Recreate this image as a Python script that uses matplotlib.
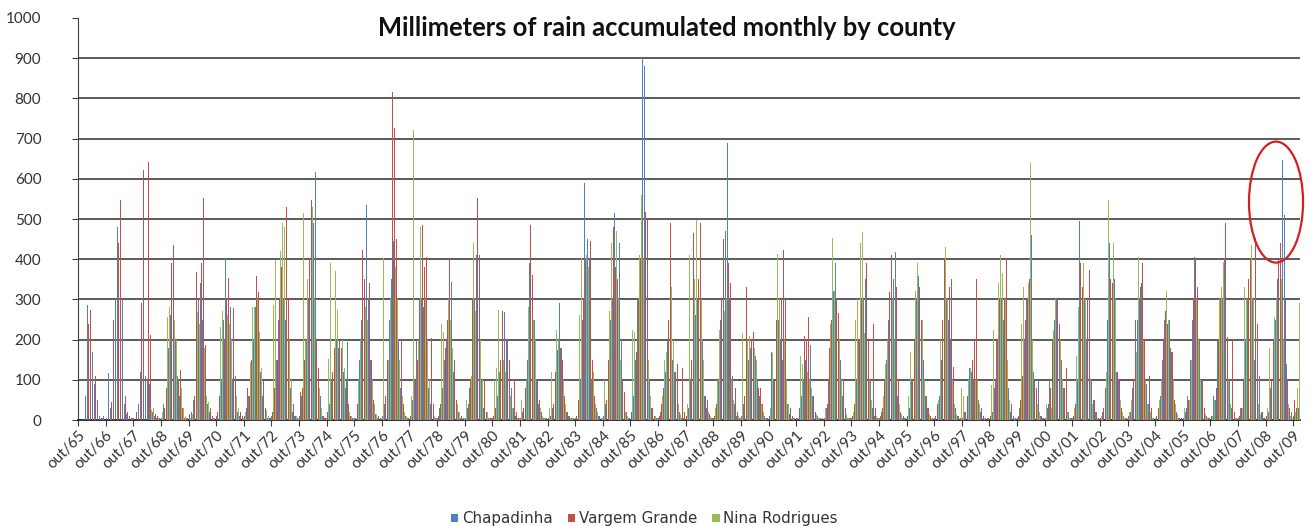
#!/usr/bin/env python
# -*- coding: utf-8 -*-

"""
Monthly rain (mm) by county, Oct/65 - Dec/09, clustered bars.
"""

import numpy as np
import matplotlib
matplotlib.use('Agg')
import matplotlib.pyplot as plt
import matplotlib.transforms as mtransforms
from matplotlib.patches import Ellipse

OUTFILE = 'out.png'

# one row per hydrological year, Oct..Sep
chapadinha = [
    0, 0, 5, 60, 286, 205, 170, 90, 40, 10, 5, 10,
    10, 116, 30, 180, 300, 481, 420, 300, 40, 15, 5, 5,
    5, 130, 40, 120, 260, 110, 100, 90, 20, 10, 5, 5,
    5, 40, 100, 180, 260, 280, 200, 110, 60, 20, 5, 5,
    10, 20, 50, 200, 300, 340, 250, 120, 40, 20, 5, 5,
    10, 40, 100, 250, 403, 300, 280, 100, 50, 20, 10, 5,
    10, 30, 60, 140, 200, 280, 250, 120, 60, 20, 5, 5,
    10, 60, 150, 250, 273, 300, 250, 150, 80, 20, 10, 5,
    10, 60, 290, 200, 300, 450, 489, 618, 130, 60, 10, 5,
    10, 40, 100, 150, 200, 180, 150, 120, 80, 195, 20, 5,
    5, 30, 150, 250, 300, 535, 300, 150, 40, 15, 5, 5,
    10, 40, 100, 250, 350, 445, 400, 200, 80, 30, 10, 5,
    10, 50, 100, 200, 250, 300, 280, 150, 80, 40, 10, 5,
    5, 30, 80, 150, 200, 250, 344, 120, 40, 20, 5, 5,
    5, 30, 80, 200, 300, 410, 250, 100, 30, 10, 5, 5,
    5, 20, 60, 120, 200, 269, 200, 150, 80, 30, 10, 5,
    5, 20, 60, 150, 390, 300, 250, 100, 40, 15, 5, 5,
    5, 10, 30, 100, 174, 290, 180, 60, 20, 10, 5, 5,
    5, 30, 100, 250, 590, 450, 400, 100, 60, 30, 10, 5,
    10, 40, 120, 250, 300, 514, 380, 440, 200, 80, 20, 5,
    20, 60, 150, 300, 400, 900, 881, 500, 100, 30, 10, 5,
    5, 20, 60, 120, 200, 250, 150, 120, 60, 20, 5, 5,
    5, 30, 100, 250, 260, 300, 406, 200, 60, 30, 10, 5,
    5, 30, 100, 250, 350, 470, 689, 300, 110, 40, 10, 5,
    10, 40, 100, 150, 180, 200, 160, 100, 60, 30, 10, 5,
    10, 170, 100, 200, 250, 200, 150, 100, 40, 15, 5, 5,
    5, 20, 60, 100, 150, 150, 187, 60, 20, 10, 5, 5,
    5, 30, 100, 200, 320, 390, 250, 150, 60, 20, 5, 5,
    5, 30, 100, 200, 250, 300, 350, 200, 100, 30, 10, 5,
    5, 20, 60, 150, 250, 300, 350, 418, 60, 20, 5, 5,
    5, 30, 100, 200, 300, 357, 250, 150, 60, 30, 10, 5,
    5, 20, 60, 150, 250, 300, 250, 200, 130, 30, 10, 5,
    5, 20, 60, 130, 120, 100, 110, 50, 20, 10, 5, 5,
    5, 20, 80, 200, 250, 300, 250, 200, 80, 20, 5, 5,
    5, 30, 100, 200, 300, 350, 460, 120, 80, 100, 10, 5,
    5, 30, 100, 200, 250, 300, 539, 150, 80, 129, 20, 5,
    5, 30, 100, 494, 250, 300, 200, 150, 100, 50, 20, 5,
    5, 20, 80, 250, 440, 514, 350, 120, 100, 30, 10, 5,
    5, 20, 80, 200, 250, 300, 340, 180, 90, 40, 10, 5,
    5, 20, 60, 150, 250, 319, 250, 170, 50, 20, 5, 5,
    5, 20, 60, 150, 250, 406, 340, 200, 100, 30, 10, 5,
    5, 60, 50, 200, 250, 300, 400, 535, 100, 30, 10, 5,
    5, 30, 80, 200, 300, 350, 300, 150, 100, 110, 20, 5,
    5, 20, 80, 150, 250, 350, 518, 647, 510, 140, 140, 20,
    10, 20, 30,
]

vargem_grande = [
    0, 0, 0, 133, 240, 273, 250, 110, 50, 15, 5, 0,
    5, 40, 45, 248, 323, 440, 547, 365, 60, 20, 10, 5,
    0, 20, 15, 291, 622, 403, 643, 211, 30, 15, 10, 5,
    5, 30, 80, 150, 390, 435, 250, 100, 124, 30, 10, 5,
    15, 20, 60, 369, 340, 390, 552, 187, 50, 30, 10, 5,
    20, 60, 120, 200, 300, 353, 577, 278, 110, 40, 20, 10,
    30, 80, 60, 150, 250, 357, 319, 160, 100, 30, 10, 5,
    20, 80, 150, 300, 380, 420, 531, 300, 110, 40, 10, 5,
    70, 80, 150, 428, 400, 547, 350, 200, 129, 50, 10, 5,
    20, 60, 120, 180, 230, 199, 180, 150, 100, 40, 10, 5,
    5, 40, 100, 424, 350, 406, 340, 150, 50, 20, 10, 5,
    20, 60, 150, 577, 817, 726, 450, 412, 200, 40, 15, 5,
    10, 40, 100, 150, 300, 485, 381, 406, 100, 204, 40, 5,
    10, 40, 100, 180, 250, 403, 250, 150, 50, 25, 10, 5,
    10, 40, 100, 300, 742, 552, 410, 250, 100, 20, 10, 5,
    10, 30, 80, 150, 270, 250, 200, 150, 200, 100, 20, 5,
    10, 30, 80, 200, 485, 360, 375, 100, 50, 20, 10, 5,
    5, 20, 40, 120, 150, 180, 150, 60, 20, 10, 5, 5,
    10, 50, 150, 300, 400, 465, 445, 150, 60, 30, 10, 5,
    10, 50, 150, 300, 481, 380, 350, 250, 100, 70, 20, 5,
    20, 80, 170, 300, 400, 450, 518, 500, 100, 30, 10, 5,
    10, 40, 80, 150, 250, 489, 150, 120, 140, 141, 130, 20,
    10, 50, 150, 465, 350, 350, 489, 250, 60, 50, 15, 5,
    10, 40, 120, 300, 450, 400, 390, 340, 365, 80, 20, 5,
    20, 60, 332, 200, 200, 220, 180, 80, 80, 40, 10, 5,
    10, 40, 100, 250, 418, 300, 423, 300, 100, 30, 10, 5,
    5, 30, 80, 210, 199, 257, 150, 60, 20, 10, 5, 5,
    10, 40, 180, 250, 300, 300, 265, 200, 100, 30, 10, 5,
    10, 40, 100, 200, 300, 350, 390, 200, 150, 238, 30, 5,
    10, 30, 100, 200, 319, 410, 493, 330, 100, 30, 10, 5,
    10, 40, 100, 200, 280, 332, 250, 200, 60, 30, 10, 5,
    10, 40, 200, 250, 400, 406, 330, 350, 133, 40, 10, 5,
    10, 20, 60, 423, 150, 200, 350, 100, 30, 10, 5, 5,
    10, 30, 100, 200, 300, 340, 300, 400, 443, 40, 10, 5,
    10, 50, 110, 250, 300, 350, 431, 100, 80, 40, 10, 5,
    10, 40, 80, 200, 240, 300, 240, 120, 80, 130, 20, 5,
    10, 40, 150, 390, 330, 514, 300, 373, 100, 50, 20, 5,
    10, 30, 80, 300, 350, 340, 330, 120, 100, 30, 10, 5,
    10, 30, 100, 250, 300, 332, 390, 200, 70, 110, 30, 5,
    10, 30, 80, 200, 270, 240, 180, 170, 50, 20, 5, 5,
    10, 30, 50, 257, 300, 400, 330, 278, 100, 30, 10, 5,
    10, 30, 80, 200, 300, 350, 489, 207, 100, 200, 20, 5,
    10, 30, 100, 250, 350, 400, 622, 453, 240, 100, 20, 5,
    10, 30, 100, 200, 350, 400, 440, 450, 300, 100, 30, 10,
    50, 30, 80,
]

nina_rodrigues = [
    0, 0, 0, 0, 0, 0, 0, 0, 0, 0, 0, 0,
    0, 0, 0, 0, 0, 0, 0, 0, 0, 0, 0, 0,
    0, 0, 0, 0, 0, 0, 0, 25, 30, 10, 5, 0,
    20, 100, 257, 280, 273, 250, 200, 130, 80, 30, 10, 5,
    5, 15, 100, 269, 240, 200, 180, 60, 45, 20, 5, 0,
    120, 232, 270, 291, 260, 240, 200, 100, 60, 30, 10, 5,
    20, 150, 145, 282, 280, 300, 220, 130, 70, 25, 10, 5,
    286, 398, 350, 420, 489, 480, 400, 200, 100, 30, 10, 5,
    40, 514, 200, 350, 585, 531, 300, 150, 80, 30, 10, 5,
    153, 390, 380, 370, 273, 270, 200, 130, 60, 20, 10, 5,
    10, 100, 200, 290, 280, 250, 200, 100, 40, 15, 5, 0,
    403, 50, 150, 300, 400, 380, 300, 150, 60, 20, 10, 5,
    60, 721, 502, 200, 480, 400, 300, 200, 100, 30, 10, 5,
    60, 238, 220, 323, 300, 250, 180, 100, 40, 20, 5, 5,
    50, 80, 110, 440, 270, 300, 200, 100, 40, 20, 5, 5,
    100, 130, 273, 240, 150, 120, 100, 60, 30, 15, 5, 5,
    50, 182, 100, 280, 290, 250, 200, 80, 30, 10, 5, 0,
    30, 120, 130, 225, 200, 150, 100, 40, 15, 5, 5, 0,
    311, 260, 403, 323, 410, 380, 300, 120, 40, 20, 10, 5,
    100, 410, 270, 440, 400, 470, 300, 150, 60, 20, 10, 5,
    224, 220, 440, 410, 560, 400, 300, 150, 60, 20, 10, 5,
    30, 60, 150, 170, 150, 332, 200, 100, 40, 15, 5, 0,
    40, 410, 200, 350, 498, 400, 300, 150, 50, 20, 10, 5,
    30, 100, 225, 602, 270, 300, 200, 100, 50, 20, 10, 5,
    216, 200, 200, 210, 232, 180, 150, 80, 40, 20, 5, 5,
    30, 166, 307, 414, 300, 300, 200, 100, 40, 15, 5, 0,
    20, 160, 140, 120, 120, 100, 80, 40, 15, 5, 0, 0,
    30, 50, 240, 453, 320, 250, 200, 100, 40, 15, 5, 5,
    20, 250, 300, 440, 468, 216, 200, 100, 50, 20, 10, 5,
    20, 60, 140, 200, 350, 300, 200, 100, 40, 15, 5, 0,
    60, 170, 232, 320, 390, 380, 250, 100, 40, 15, 5, 0,
    20, 50, 200, 250, 431, 300, 200, 100, 40, 15, 5, 80,
    60, 435, 100, 130, 120, 100, 100, 40, 15, 5, 0, 0,
    88, 225, 174, 340, 410, 365, 300, 150, 50, 20, 5, 0,
    50, 240, 332, 340, 340, 639, 200, 100, 40, 20, 5, 0,
    40, 133, 30, 224, 300, 435, 200, 100, 40, 20, 5, 0,
    30, 159, 282, 330, 390, 300, 50, 100, 40, 20, 5, 0,
    10, 80, 120, 547, 350, 440, 300, 120, 50, 20, 5, 0,
    20, 50, 390, 170, 406, 300, 200, 100, 40, 20, 5, 0,
    20, 50, 100, 269, 320, 250, 200, 100, 40, 15, 5, 0,
    30, 210, 50, 150, 328, 300, 200, 100, 40, 15, 5, 0,
    10, 50, 332, 300, 330, 394, 200, 100, 40, 15, 5, 0,
    20, 30, 332, 300, 350, 435, 300, 100, 40, 15, 5, 0,
    30, 180, 221, 257, 300, 400, 350, 200, 83, 40, 10, 5,
    20, 80, 290,
]

tick_labels = ['out/%02d' % (y % 100) for y in range(1965, 2010)]
series_names = ['Chapadinha', 'Vargem Grande', 'Nina Rodrigues']
colors = ['#4F81BD', '#C0504D', '#9BBB59']

# the red circle drawn around the 2008/09 peak (centre month, mm, size)
circle_center = (520.5, 542)
circle_size = (23.5, 301)


def main():
    data = [chapadinha, vargem_grande, nina_rodrigues]
    n = len(chapadinha)
    x = np.arange(n) + 0.5

    fig = plt.figure(figsize=(13.12, 5.26), dpi=100)
    ax = fig.add_axes([0.0595, 0.2015, 0.9315, 0.7643])

    w = 0.31
    for k, (vals, name, c) in enumerate(zip(data, series_names, colors)):
        ax.bar(x + (k - 1) * w, vals, width=w, color=c, linewidth=0,
               label=name, zorder=3)

    ax.set_xlim(0, n)
    ax.set_ylim(0, 1000)
    ax.set_yticks(range(0, 1001, 100))
    for v in range(100, 1000, 100):
        ax.axhline(v, color='#404040', lw=1.2, zorder=1)

    ax.set_xticks(np.arange(len(tick_labels)) * 12)
    ax.set_xticklabels(tick_labels, rotation=45, ha='right', va='top',
                       rotation_mode='anchor', fontsize=11, color='#333333',
                       family='Lato')
    shift = mtransforms.ScaledTranslation(9 / 100, 0, fig.dpi_scale_trans)
    for lab in ax.get_xticklabels():
        lab.set_transform(lab.get_transform() + shift)
    ax.tick_params(axis='x', length=4, color='#404040', pad=2)
    ax.tick_params(axis='y', length=4, color='#404040', labelsize=11,
                   labelcolor='#333333', pad=22.5)
    for lab in ax.get_yticklabels():
        lab.set_family('Lato')

    for s in ['top', 'right']:
        ax.spines[s].set_visible(False)
    ax.spines['left'].set_color('#404040')
    ax.spines['bottom'].set_color('#202020')
    ax.spines['bottom'].set_linewidth(1.3)

    ax.add_patch(Ellipse(circle_center, circle_size[0], circle_size[1],
                         fill=False, edgecolor='#D42020', lw=1.6, zorder=5,
                         clip_on=False))

    fig.text(0.508, 0.946, 'Millimeters of rain accumulated monthly by county',
             ha='center', va='center', fontsize=18.4, family='Lato',
             fontweight='bold', color='#111111')

    leg = fig.legend(loc='lower center', bbox_to_anchor=(0.491, -0.026), ncol=3,
                     frameon=False, handlelength=0.5, handleheight=0.5,
                     handletextpad=0.25, columnspacing=1.0,
                     prop={'family': 'DejaVu Sans', 'size': 10.8})
    for t in leg.get_texts():
        t.set_color('#333333')

    plt.savefig(OUTFILE, dpi=100)


if __name__ == "__main__":
    main()
